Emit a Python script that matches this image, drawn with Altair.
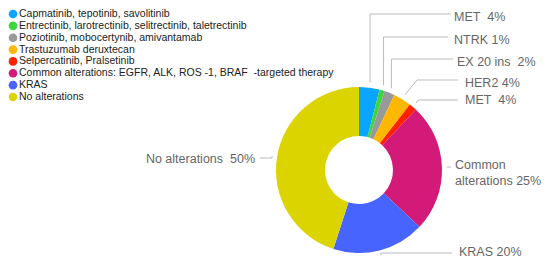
import math
import altair as alt
import pandas as pd

NB = "\u00a0"

# ---- data ----
legend_labels = [
    "Capmatinib, tepotinib, savolitinib",
    "Entrectinib, larotrectinib, selitrectinib, taletrectinib",
    "Poziotinib, mobocertynib, amivantamab",
    "Trastuzumab deruxtecan",
    "Selpercatinib, Pralsetinib",
    "Common alterations: EGFR, ALK, ROS -1, BRAF" + NB + " -targeted therapy",
    "KRAS",
    "No alterations",
]
slice_values = [4, 1, 2, 3.5, 1.5, 25, 18, 45]
slice_labels = [
    "MET" + NB + " 4%",
    "NTRK 1%",
    "EX 20 ins" + NB + " 2%",
    "HER2 4%",
    "MET" + NB + " 4%",
    "Common\nalterations 25%",
    "KRAS 20%",
    "No alterations" + NB + " 50%",
]
colors = ["#0AA5FF", "#3DD63D", "#999999", "#FFB700", "#FF2200", "#D41A78", "#4764FF", "#DCD400"]

# ---- layout (chart pixel coordinates) ----
W, H = 534, 250
CX, CY = 351, 162
R_OUT, R_IN = 83, 34
R_LEAD = 88
label_x = [446, 446, 449, 457, 457, 447, 451, 247]
label_y = [8.5, 31.5, 53.5, 74.5, 92, 157, 244, 151]
label_align = ["left"] * 7 + ["right"]
line_y = [6, 29, 51, 72, 92, 159, 245, 150]
line_end_x = [443, 440, 445, 450, 450, 443, 444, 252]
elbow_x = [None, None, None, 409, 410, None, None, None]

# slices
slices = pd.DataFrame({
    "name": legend_labels,
    "value": slice_values,
    "idx": list(range(len(slice_values))),
})

# leader lines computed from slice mid-angles
total = sum(slice_values)
segs = []
cum = 0
for i, v in enumerate(slice_values):
    mid = (cum + v / 2) / total * 2 * math.pi
    cum += v
    sx = CX + R_LEAD * math.sin(mid)
    sy = CY - R_LEAD * math.cos(mid)
    ex = sx if elbow_x[i] is None else elbow_x[i]
    segs.append({"x": sx, "y": sy, "x2": ex, "y2": line_y[i]})
    segs.append({"x": ex, "y": line_y[i], "x2": line_end_x[i], "y2": line_y[i]})
segs = pd.DataFrame(segs)

labels = pd.DataFrame({"text": slice_labels, "x": label_x, "y": label_y, "align": label_align})

legend_df = pd.DataFrame({
    "name": legend_labels,
    "row": list(range(len(legend_labels))),
})

color_scale = alt.Scale(domain=legend_labels, range=colors)
row_scale = alt.Scale(domain=[0, 7], range=[6, 89])

arcs = alt.Chart(slices).mark_arc(innerRadius=R_IN, outerRadius=R_OUT).encode(
    theta=alt.Theta("value:Q", stack=True),
    color=alt.Color("name:N", scale=color_scale, legend=None),
    order=alt.Order("idx:Q"),
    x=alt.value(CX),
    y=alt.value(CY),
)

leaders = alt.Chart(segs).mark_rule(color="#BBBBBB", strokeWidth=1).encode(
    x=alt.X("x:Q", scale=None),
    y=alt.Y("y:Q", scale=None),
    x2="x2:Q",
    y2="y2:Q",
)

lab_left = alt.Chart(labels[labels["align"] == "left"]).mark_text(
    align="left", baseline="middle", font="Liberation Sans", fontSize=12.5,
    color="#666666", lineBreak="\n", lineHeight=16,
).encode(x=alt.X("x:Q", scale=None), y=alt.Y("y:Q", scale=None), text="text:N")

lab_right = alt.Chart(labels[labels["align"] == "right"]).mark_text(
    align="right", baseline="middle", font="Liberation Sans", fontSize=12.5,
    color="#666666",
).encode(x=alt.X("x:Q", scale=None), y=alt.Y("y:Q", scale=None), text="text:N")

leg_pts = alt.Chart(legend_df).mark_point(filled=True, size=75, opacity=1, shape="circle").encode(
    x=alt.value(5),
    y=alt.Y("row:Q", scale=row_scale, axis=None),
    color=alt.Color("name:N", scale=color_scale, legend=None),
)

leg_txt = alt.Chart(legend_df).mark_text(
    align="left", baseline="middle", font="Liberation Sans", fontSize=10.5, color="#222222",
).encode(
    x=alt.value(11),
    y=alt.Y("row:Q", scale=row_scale, axis=None),
    text="name:N",
)

chart = alt.layer(arcs, leaders, lab_left, lab_right, leg_pts, leg_txt).properties(
    width=W, height=H, padding=0, autosize="none",
).resolve_scale(y="independent").configure_view(stroke=None)

chart.save("out.html", embed_options={"renderer": "svg", "actions": False})
